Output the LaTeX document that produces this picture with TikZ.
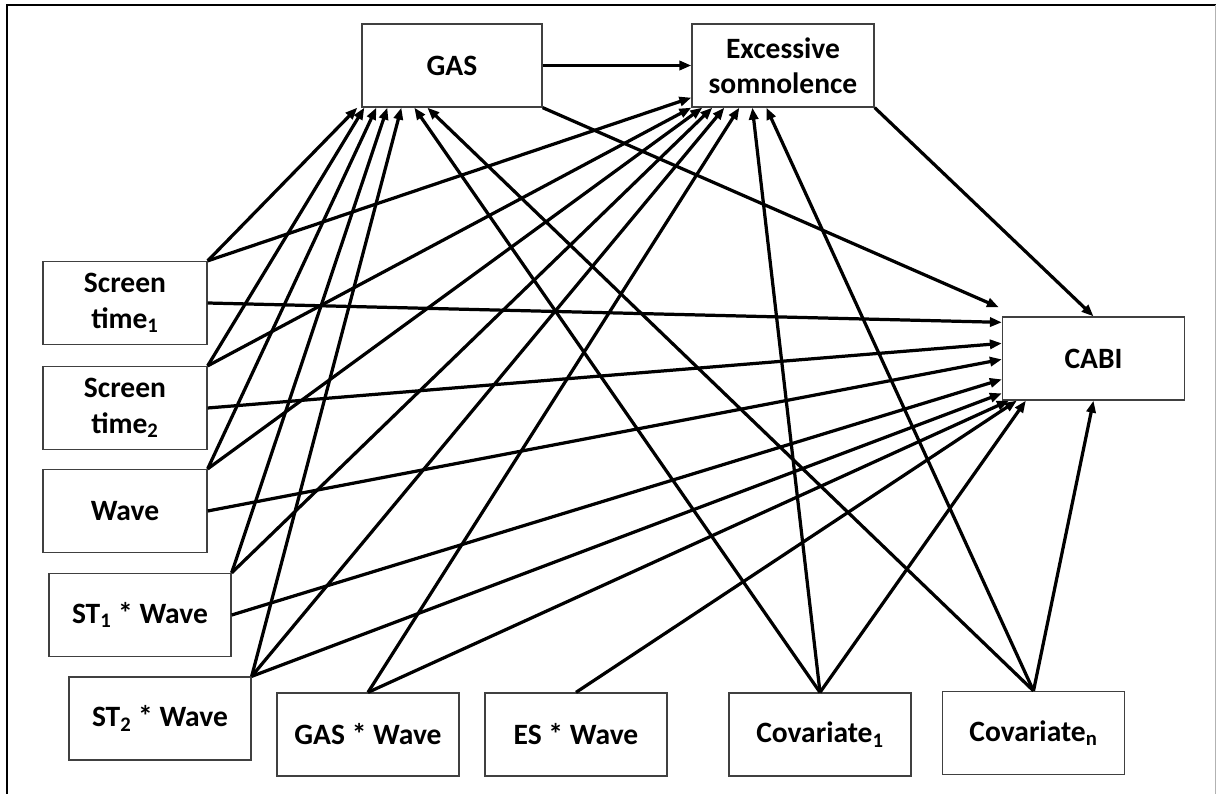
\documentclass[tikz,border=0pt]{standalone}
\usepackage{fontspec}
\setmainfont{Carlito}
\usetikzlibrary{arrows.meta}
\usetikzlibrary{calc}

\tikzset{
  box/.style={draw=black!75, line width=0.9pt, minimum width=4.55cm,
    minimum height=2.075cm, inner sep=0pt, align=center,
    font=\bfseries\fontsize{21}{25}\selectfont},
  leftbox/.style={box, minimum width=4.1cm},
  arr/.style={line width=2.3pt, -{Triangle[length=8.5pt,width=6.5pt]}},
}

\begin{document}
\begin{tikzpicture}[x=0.025cm,y=-0.025cm]
  \useasboundingbox (0,0) rectangle (1216,794);
  % frame
  \draw[line width=1.3pt]
    (7,794)
    --
    (7,5)
    --
    (1216,5);
  \draw[black!30, line width=0.6pt]
    (1215,5)
    --
    (1215,794);

  % mediators and outcome
  \node[box, minimum width=4.5cm] (gas) at (452,65.5) {GAS};
  \node[box] (es) at (783,65.5) {Excessive\\somnolence};
  \node[box] (cabi) at (1093.5,358.5) {CABI};

  % predictors
  \node[leftbox] (st1) at (125,303) {Screen\\time\textsubscript{1}};
  \node[leftbox] (st2) at (125,408) {Screen\\time\textsubscript{2}};
  \node[leftbox] (wave) at (125,511) {Wave};
  \node[box] (stw1) at (140,615) {ST\textsubscript{1} * Wave};
  \node[box] (stw2) at (160,718.5) {ST\textsubscript{2} * Wave};
  \node[box] (gasw) at (368,734.5) {GAS * Wave};
  \node[box] (esw) at (576,734.5) {ES * Wave};
  \node[box] (cov1) at (820,734.5) {Covariate\textsubscript{1}};
  \node[box] (covn) at (1033.5,733) {Covariate\textsubscript{n}};

  % paths into GAS
  \draw[arr] (st1.north east) -- ($(gas.south west)+(-4,0)$);
  \draw[arr] (st2.north east) -- ($(gas.south west)+(3,0)$);
  \draw[arr] (wave.north east) -- ($(gas.south west)+(15,0)$);
  \draw[arr] (stw1.north east) -- ($(gas.south west)+(26,0)$);
  \draw[arr] (stw2.north east) -- ($(gas.south west)+(40,0)$);
  \draw[arr] (cov1.north) -- ($(gas.south west)+(53,0)$);
  \draw[arr] (covn.north) -- ($(gas.south west)+(66,0)$);

  % paths into excessive somnolence
  \draw[arr] (gas) -- (es);
  \draw[arr] (st1.north east) -- ($(es.south west)+(0,-10)$);
  \draw[arr] (st2.north east) -- (es.south west);
  \draw[arr] (wave.north east) -- ($(es.south west)+(11,0)$);
  \draw[arr] (stw1.north east) -- ($(es.south west)+(21,0)$);
  \draw[arr] (stw2.north east) -- ($(es.south west)+(33,0)$);
  \draw[arr] (gasw.north) -- ($(es.south west)+(48,0)$);
  \draw[arr] (cov1.north) -- ($(es.south west)+(61,0)$);
  \draw[arr] (covn.north) -- ($(es.south west)+(75,0)$);

  % paths into CABI
  \draw[arr] (gas.south east) -- ($(cabi.north west)+(-3,-9)$);
  \draw[arr] (es.south east) -- (cabi.north);
  \draw[arr] (st1.east) -- ($(cabi.north west)+(0,6)$);
  \draw[arr] (st2.east) -- ($(cabi.north west)+(0,27)$);
  \draw[arr] (wave.east) -- ($(cabi.north west)+(0,43)$);
  \draw[arr] (stw1.east) -- ($(cabi.north west)+(0,63)$);
  \draw[arr] (stw2.north east) -- ($(cabi.north west)+(0,77)$);
  \draw[arr] (gasw.north) -- ($(cabi.south west)+(7,0)$);
  \draw[arr] (esw.north) -- ($(cabi.south west)+(15,0)$);
  \draw[arr] (cov1.north) -- ($(cabi.south west)+(24,0)$);
  \draw[arr] (covn.north) -- (cabi.south);
\end{tikzpicture}
\end{document}
